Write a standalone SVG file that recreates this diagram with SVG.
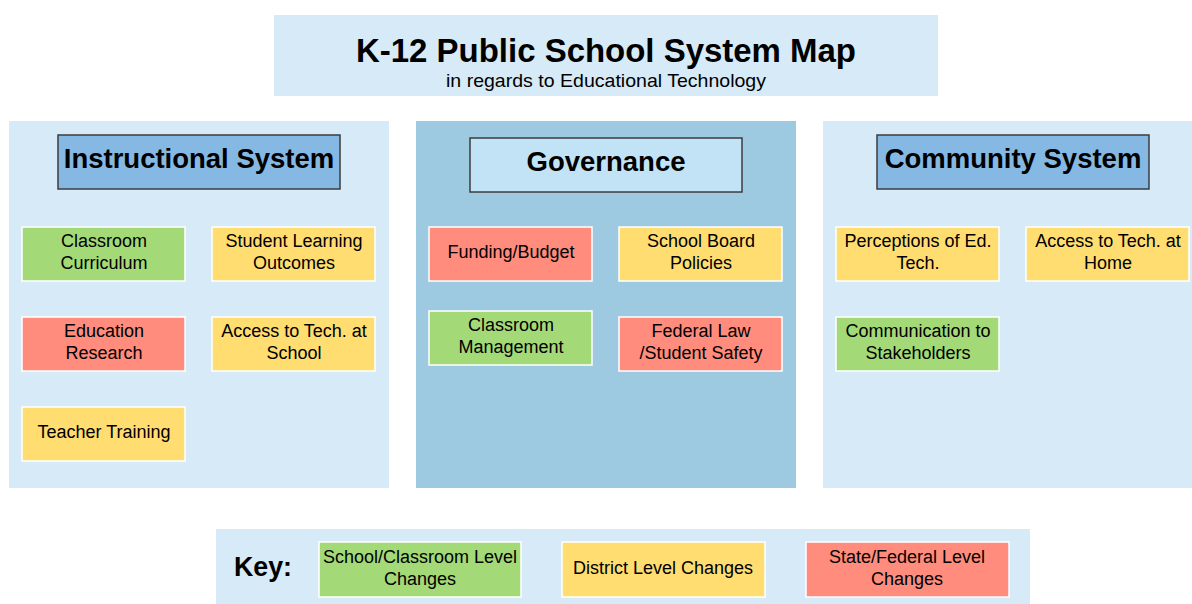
<svg xmlns="http://www.w3.org/2000/svg" width="1192" height="604" viewBox="0 0 1192 604">
<style>
.panel{fill:#d6eaf7}
.gpanel{fill:#9ecae1}
.hdr{fill:#85b8e3;stroke:#3d3d3d;stroke-width:1.5}
.ghdr{fill:#c2e3f5;stroke:#3d3d3d;stroke-width:1.5}
.card{stroke:#fff;stroke-width:1.5}
.g{fill:#a4d977}.y{fill:#ffdd71}.r{fill:#ff8c7c}
text{font-family:"Liberation Sans",Arial,sans-serif;fill:#000;text-anchor:middle}
.ht{font-size:27.5px;font-weight:bold}
.ct{font-size:18px}
</style>
<rect width="1192" height="604" fill="#fff"/>
<g id="title">
<rect x="274" y="15" width="664" height="81" class="panel"/>
<text x="606" y="62" style="font-size:34px;font-weight:bold" textLength="500" lengthAdjust="spacingAndGlyphs">K-12 Public School System Map</text>
<text x="606" y="87" style="font-size:19px" textLength="320" lengthAdjust="spacingAndGlyphs">in regards to Educational Technology</text>
</g>
<g id="instructional">
<rect x="9" y="121" width="380" height="367" class="panel"/>
<rect x="58" y="135" width="282" height="54" class="hdr"/>
<text x="199" y="168" class="ht">Instructional System</text>
</g>
<g id="governance">
<rect x="416" y="121" width="380" height="367" class="gpanel"/>
<rect x="470" y="138" width="272" height="54" class="ghdr"/>
<text x="606" y="171" class="ht">Governance</text>
</g>
<g id="community">
<rect x="823" y="121" width="369" height="367" class="panel"/>
<rect x="877" y="135" width="272" height="54" class="hdr"/>
<text x="1013" y="168" class="ht">Community System</text>
</g>
<g id="connectors"></g>
<g id="classroom-curriculum"><rect x="22" y="227" width="163" height="54" class="card g"/><text x="104" y="247" class="ct">Classroom</text><text x="104" y="269" class="ct">Curriculum</text></g>
<g id="student-learning"><rect x="212" y="227" width="163" height="54" class="card y"/><text x="294" y="247" class="ct">Student Learning</text><text x="294" y="269" class="ct">Outcomes</text></g>
<g id="education-research"><rect x="22" y="317" width="163" height="54" class="card r"/><text x="104" y="337" class="ct">Education</text><text x="104" y="359" class="ct">Research</text></g>
<g id="access-school"><rect x="212" y="317" width="163" height="54" class="card y"/><text x="294" y="337" class="ct">Access to Tech. at</text><text x="294" y="359" class="ct">School</text></g>
<g id="teacher-training"><rect x="22" y="407" width="163" height="54" class="card y"/><text x="104" y="438" class="ct">Teacher Training</text></g>
<g id="funding"><rect x="429" y="227" width="163" height="54" class="card r"/><text x="511" y="258" class="ct">Funding/Budget</text></g>
<g id="school-board"><rect x="619" y="227" width="163" height="54" class="card y"/><text x="701" y="247" class="ct">School Board</text><text x="701" y="269" class="ct">Policies</text></g>
<g id="classroom-management"><rect x="429" y="311" width="163" height="54" class="card g"/><text x="511" y="331" class="ct">Classroom</text><text x="511" y="353" class="ct">Management</text></g>
<g id="federal-law"><rect x="619" y="317" width="163" height="54" class="card r"/><text x="701" y="337" class="ct">Federal Law</text><text x="701" y="359" class="ct">/Student Safety</text></g>
<g id="perceptions"><rect x="836" y="227" width="163" height="54" class="card y"/><text x="918" y="247" class="ct">Perceptions of Ed.</text><text x="918" y="269" class="ct">Tech.</text></g>
<g id="access-home"><rect x="1026" y="227" width="163" height="54" class="card y"/><text x="1108" y="247" class="ct">Access to Tech. at</text><text x="1108" y="269" class="ct">Home</text></g>
<g id="communication"><rect x="836" y="317" width="163" height="54" class="card g"/><text x="918" y="337" class="ct">Communication to</text><text x="918" y="359" class="ct">Stakeholders</text></g>
<g id="key">
<rect x="216" y="529" width="814" height="75" class="panel"/>
<text x="263" y="576" style="font-size:27px;font-weight:bold" textLength="58" lengthAdjust="spacingAndGlyphs">Key:</text>
<rect x="319" y="542" width="202" height="55" class="card g"/>
<text x="420" y="563" class="ct">School/Classroom Level</text><text x="420" y="585" class="ct">Changes</text>
<rect x="562" y="542" width="203" height="55" class="card y"/>
<text x="663" y="574" class="ct">District Level Changes</text>
<rect x="806" y="542" width="203" height="55" class="card r"/>
<text x="907" y="563" class="ct">State/Federal Level</text><text x="907" y="585" class="ct">Changes</text>
</g>
</svg>
